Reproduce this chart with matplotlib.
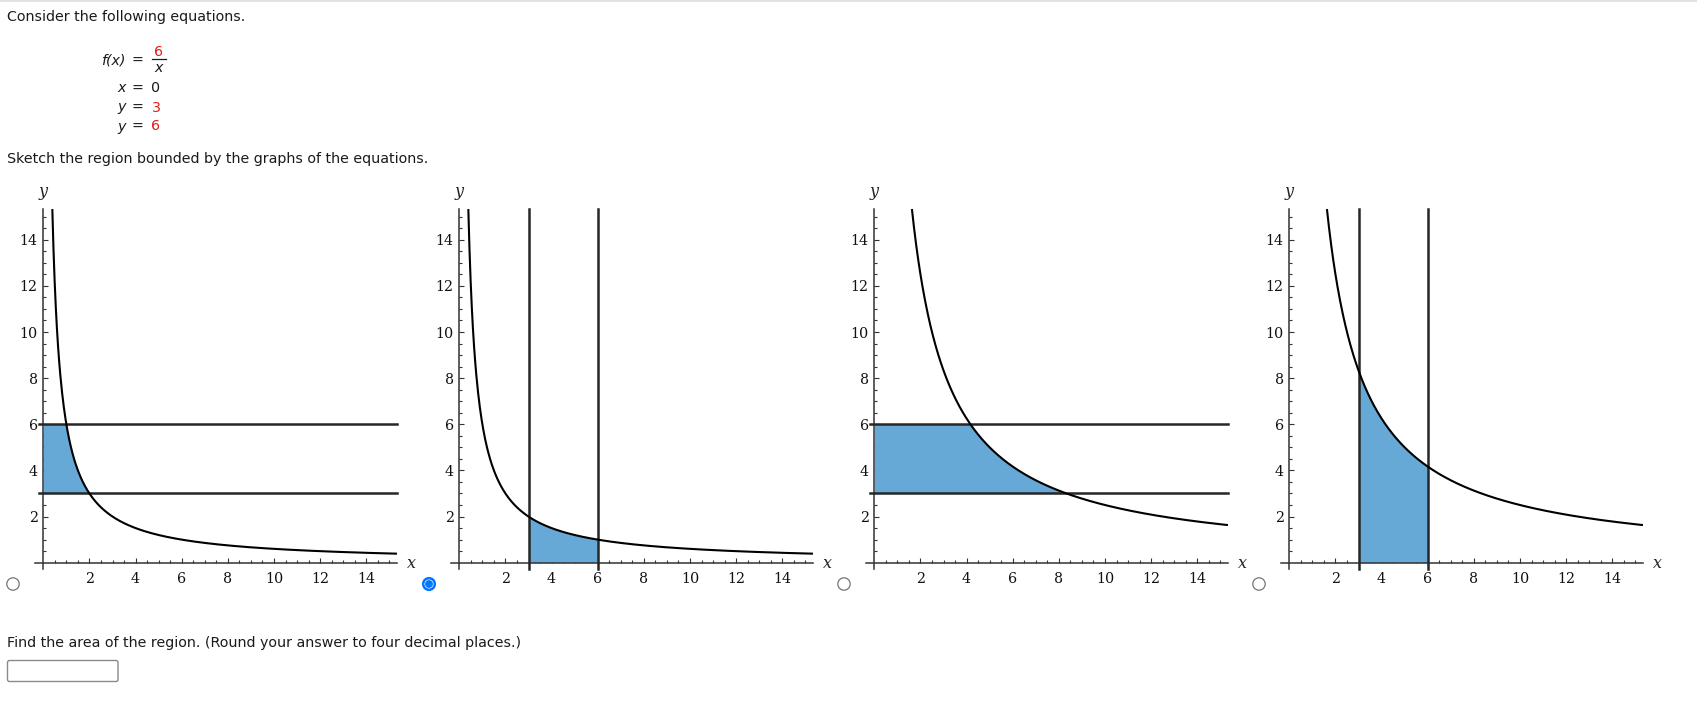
import matplotlib
matplotlib.use("Agg")
import matplotlib.pyplot as plt
import numpy as np
from matplotlib.patches import Circle, FancyBboxPatch

W, H = 1697, 705

# chart data
curve_coef = [6, 6, 25, 25]            # f(x) = k / x in each choice
region_kind = ["horiz", "vert", "horiz", "vert"]
bound_lo, bound_hi = 3, 6
selected = [False, True, False, False]
tick_values = [2, 4, 6, 8, 10, 12, 14]
minor_values = np.arange(0.5, 15.01, 0.5)
axis_top = 15.33

# layout in pixels
axis_x0 = [43.3, 459.3, 874.3, 1289.3]
axis_y0 = 562.7
ppu = 23.07

fill_color = "#66a9d6"
line_color = "#262626"
axis_color = "#333333"
red = "#e31b1b"
txt = "#1a1a1a"

plt.rcParams["font.family"] = ["DejaVu Sans"]
fig = plt.figure(figsize=(W / 100, H / 100), dpi=100)

bg = fig.add_axes([0, 0, 1, 1])
bg.set_xlim(0, W)
bg.set_ylim(H, 0)
bg.axis("off")
bg.set_zorder(0)

# top page border
bg.plot([0, W], [0.6, 0.6], color="#dddddd", lw=1.2)

fs = 10.3
bg.text(7, 16.5, "Consider the following equations.", fontsize=fs, color=txt, va="center")

# equations block
bg.text(125.5, 60.5, "f(x)", fontsize=fs, style="italic", color=txt, ha="right", va="center")
bg.text(137, 61, "=", fontsize=fs, color=txt, ha="center", va="center")
bg.text(158.5, 51.5, "6", fontsize=fs, color=red, ha="center", va="center")
bg.plot([151.7, 165.7], [59.3, 59.3], color=txt, lw=0.9)
bg.text(158.5, 68.5, "x", fontsize=fs, style="italic", color=txt, ha="center", va="center")

rows = [("x", "0", txt, 88.5), ("y", "3", red, 107.5), ("y", "6", red, 126.5)]
for lhs, rhs, c, yy in rows:
    bg.text(125.5, yy, lhs, fontsize=fs, style="italic", color=txt, ha="right", va="center")
    bg.text(137, yy, "=", fontsize=fs, color=txt, ha="center", va="center")
    bg.text(151.5, yy, rhs, fontsize=fs, color=c, ha="left", va="center")

bg.text(7, 159.5, "Sketch the region bounded by the graphs of the equations.",
        fontsize=fs, color=txt, va="center")
bg.text(7, 642.5, "Find the area of the region. (Round your answer to four decimal places.)",
        fontsize=fs, color=txt, va="center")
bg.add_patch(FancyBboxPatch((7.5, 660.5), 110.5, 21, boxstyle="round,pad=0,rounding_size=2",
                            facecolor="white", edgecolor="#8a8a8a", lw=1.0))

xlo, xhi = -0.5, 15.5
ylo, yhi = -0.5, 15.5

for i in range(4):
    x0 = axis_x0[i]
    left = x0 + xlo * ppu
    width = (xhi - xlo) * ppu
    top = axis_y0 - yhi * ppu
    bottom = axis_y0 - ylo * ppu
    ax = fig.add_axes([left / W, 1 - bottom / H, width / W, (bottom - top) / H])
    ax.set_zorder(1)
    ax.patch.set_alpha(0)
    ax.set_xlim(xlo, xhi)
    ax.set_ylim(ylo, yhi)

    for s in ["top", "right"]:
        ax.spines[s].set_visible(False)
    ax.spines["left"].set_position(("data", 0))
    ax.spines["bottom"].set_position(("data", 0))
    ax.spines["left"].set_bounds(-0.27, axis_top)
    ax.spines["bottom"].set_bounds(-0.36, axis_top)
    for s in ["left", "bottom"]:
        ax.spines[s].set_color(axis_color)
        ax.spines[s].set_linewidth(1.1)
    ax.xaxis.set_ticks_position("bottom")
    ax.yaxis.set_ticks_position("left")

    ax.set_xticks(tick_values)
    ax.set_yticks(tick_values)
    ax.set_xticks(minor_values, minor=True)
    ax.set_yticks(minor_values, minor=True)
    ax.set_xticklabels([str(v) for v in tick_values])
    ax.set_yticklabels([str(v) for v in tick_values])
    ax.tick_params(which="both", direction="in", color=axis_color, width=0.8,
                   labelsize=10.3, labelcolor="#111111")
    ax.tick_params(which="major", length=3.8)
    ax.tick_params(which="minor", length=2.2)
    ax.tick_params(axis="x", pad=7)
    ax.tick_params(axis="y", pad=4)
    for lab in ax.get_xticklabels() + ax.get_yticklabels():
        lab.set_family("DejaVu Serif")

    k = curve_coef[i]
    xs = np.linspace(k / axis_top, axis_top, 600)
    ax.plot(xs, k / xs, color="black", lw=1.5, zorder=4, solid_capstyle="butt")

    if region_kind[i] == "horiz":
        ys = np.linspace(bound_lo, bound_hi, 200)
        ax.fill_betweenx(ys, 0, k / ys, color=fill_color, lw=0, zorder=2)
        for b in [bound_lo, bound_hi]:
            ax.plot([-0.2, axis_top], [b, b], color=line_color, lw=1.8, zorder=3)
    else:
        xr = np.linspace(bound_lo, bound_hi, 200)
        ax.fill_between(xr, 0, k / xr, color=fill_color, lw=0, zorder=2)
        for b in [bound_lo, bound_hi]:
            ax.plot([b, b], [-0.27, axis_top], color=line_color, lw=1.8, zorder=3)

    # axis names
    bg.text(x0 - 0.5, 192, "y", fontsize=11.5, style="italic", family="DejaVu Serif",
            color="#222222", ha="center", va="center")
    bg.text(x0 + 368.5, 563.5, "x", fontsize=11.5, style="italic", family="DejaVu Serif",
            color="#222222", ha="center", va="center")

    # radio button
    rx, ry = x0 - 30.3, 584
    if selected[i]:
        bg.add_patch(Circle((rx, ry), 5.8, facecolor="white", edgecolor="#0075ff", lw=1.8))
        bg.add_patch(Circle((rx, ry), 3.9, facecolor="#0075ff", edgecolor="none"))
    else:
        bg.add_patch(Circle((rx, ry), 6.2, facecolor="white", edgecolor="#767676", lw=0.9))

fig.savefig("out.png", dpi=100)
